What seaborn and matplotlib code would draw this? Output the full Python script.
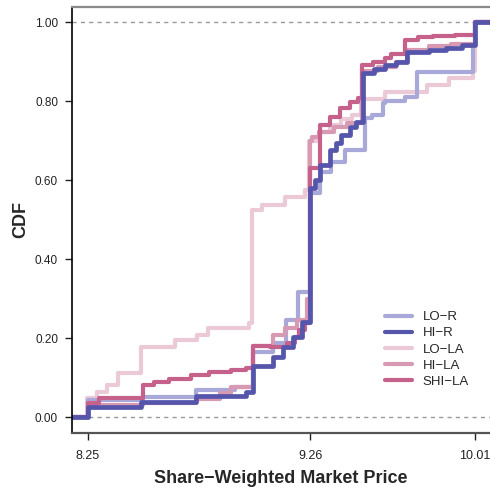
import pandas as pd
import matplotlib
matplotlib.use('Agg')
import matplotlib.pyplot as plt
import seaborn as sns

# step points (x = price where the CDF jumps, y = value after the jump)
lo_r_x = [8.10, 8.25, 8.50, 8.74, 8.92, 9.00, 9.09, 9.15, 9.205, 9.26, 9.305, 9.357, 9.418,
          9.509, 9.54, 9.59, 9.60, 9.69, 9.744, 10.00, 10.01, 10.20]
lo_r_y = [0.00, 0.043, 0.051, 0.068, 0.076, 0.165, 0.187, 0.245, 0.317, 0.567, 0.620, 0.646, 0.676,
          0.757, 0.765, 0.794, 0.800, 0.811, 0.874, 0.945, 1.00, 1.00]

hi_r_x = [8.10, 8.25, 8.49, 8.74, 8.97, 9.00, 9.09, 9.135, 9.18, 9.225, 9.26, 9.28, 9.305, 9.35,
          9.38, 9.40, 9.44, 9.47, 9.50, 9.55, 9.60, 9.65, 9.70, 9.80, 9.88, 9.95, 10.01, 10.20]
hi_r_y = [0.00, 0.025, 0.037, 0.052, 0.063, 0.130, 0.153, 0.178, 0.203, 0.241, 0.580, 0.600, 0.638, 0.676,
          0.693, 0.714, 0.735, 0.748, 0.870, 0.882, 0.891, 0.900, 0.925, 0.930, 0.935, 0.942, 1.00, 1.00]

lo_la_x = [8.10, 8.245, 8.29, 8.335, 8.385, 8.49, 8.645, 8.745, 8.795, 8.98, 8.994, 9.04, 9.145,
           9.235, 9.255, 9.30, 9.35, 9.40, 9.45, 9.49, 9.60, 9.79, 9.89, 10.00, 10.01, 10.20]
lo_la_y = [0.00, 0.047, 0.064, 0.081, 0.112, 0.178, 0.195, 0.208, 0.225, 0.238, 0.524, 0.537, 0.558,
           0.575, 0.700, 0.722, 0.740, 0.755, 0.765, 0.806, 0.824, 0.840, 0.858, 0.875, 1.00, 1.00]

hi_la_x = [8.10, 8.25, 8.50, 8.74, 8.85, 8.90, 9.00, 9.09, 9.145, 9.20, 9.245, 9.258, 9.27, 9.30,
           9.37, 9.43, 9.494, 9.57, 9.65, 9.70, 9.80, 9.90, 10.01, 10.20]
hi_la_y = [0.00, 0.030, 0.036, 0.045, 0.060, 0.076, 0.180, 0.208, 0.225, 0.245, 0.300, 0.700, 0.709, 0.722,
           0.735, 0.745, 0.875, 0.887, 0.900, 0.930, 0.940, 0.945, 1.00, 1.00]

shi_la_x = [8.10, 8.25, 8.30, 8.50, 8.55, 8.62, 8.72, 8.80, 8.90, 8.97, 9.00, 9.077, 9.153, 9.19,
            9.21, 9.236, 9.259, 9.305, 9.35, 9.395, 9.44, 9.48, 9.494, 9.547, 9.60, 9.63, 9.69,
            9.75, 9.82, 9.92, 10.01, 10.20]
shi_la_y = [0.00, 0.035, 0.048, 0.081, 0.088, 0.097, 0.106, 0.113, 0.118, 0.124, 0.180, 0.178, 0.187, 0.203,
            0.220, 0.238, 0.630, 0.740, 0.760, 0.782, 0.798, 0.807, 0.891, 0.900, 0.910, 0.920, 0.954,
            0.962, 0.964, 0.967, 1.00, 1.00]

groups = ['LO\u2212R', 'HI\u2212R', 'LO\u2212LA', 'HI\u2212LA', 'SHI\u2212LA']
colors = ['#a9a9d9', '#5555ab', '#ecc9d7', '#d899b3', '#c5618b']

series = [(lo_r_x, lo_r_y), (hi_r_x, hi_r_y), (lo_la_x, lo_la_y), (hi_la_x, hi_la_y), (shi_la_x, shi_la_y)]
frames = []
for g, (xs, ys) in zip(groups, series):
    frames.append(pd.DataFrame({'price': xs, 'cdf': ys, 'group': g}))
df = pd.concat(frames, ignore_index=True)

sns.set_theme(style='ticks')
plt.rcParams['font.family'] = ['Liberation Sans', 'DejaVu Sans']

fig = plt.figure(figsize=(4.9, 4.94), dpi=100)
ax = fig.add_axes([72 / 490, 61 / 494, 418 / 490, 426 / 494])

# drawing order: light ones first, dark blue on top
draw_order = ['LO\u2212LA', 'LO\u2212R', 'HI\u2212LA', 'SHI\u2212LA', 'HI\u2212R']
pal = dict(zip(groups, colors))
sns.lineplot(data=df, x='price', y='cdf', hue='group', hue_order=draw_order, palette=pal,
             estimator=None, drawstyle='steps-post', linewidth=3.0, legend=False, ax=ax)
for ln, g in zip(ax.lines, draw_order):
    ln.set_solid_capstyle('butt')
    if g == 'HI\u2212R':
        ln.set_linewidth(3.4)

ax.axhline(0, color='#9a9a9a', lw=1.0, ls=(0, (3, 3)), zorder=0.5)
ax.axhline(1, color='#9a9a9a', lw=1.0, ls=(0, (3, 3)), zorder=0.5)

ax.set_xlim(8.1773, 10.078)
ax.set_ylim(-0.0405, 1.038)
ax.set_xticks([8.25, 9.26, 10.01])
ax.set_xticklabels(['8.25', '9.26', '10.01'])
ax.set_yticks([0, 0.2, 0.4, 0.6, 0.8, 1.0])
ax.set_yticklabels(['0.00', '0.20', '0.40', '0.60', '0.80', '1.00'])
ax.tick_params(axis='both', labelsize=8.5, length=5, width=1.0, color='#222222', labelcolor='#222222')
ax.tick_params(axis='x', labelsize=9, pad=7)
ax.tick_params(axis='y', pad=5)

ax.spines['right'].set_visible(False)
ax.spines['left'].set_color('black')
ax.spines['left'].set_linewidth(1.2)
ax.spines['bottom'].set_color('#555555')
ax.spines['bottom'].set_linewidth(1.6)
ax.spines['top'].set_color('#8a8a8a')
ax.spines['top'].set_linewidth(1.6)

ax.set_xlabel('Share\u2212Weighted Market Price', fontsize=13, fontweight='bold', labelpad=6)
ax.set_ylabel('CDF', fontsize=13, fontweight='bold', labelpad=4)

handles = [plt.Line2D([], [], color=pal[g], lw=3.0) for g in groups]
ax.legend(handles, groups, loc='upper left', bbox_to_anchor=(0.735, 0.299), frameon=False,
          fontsize=9.5, handlelength=2.1, handletextpad=0.8, labelspacing=0.3, borderaxespad=0)

fig.savefig('out.png', dpi=100)
